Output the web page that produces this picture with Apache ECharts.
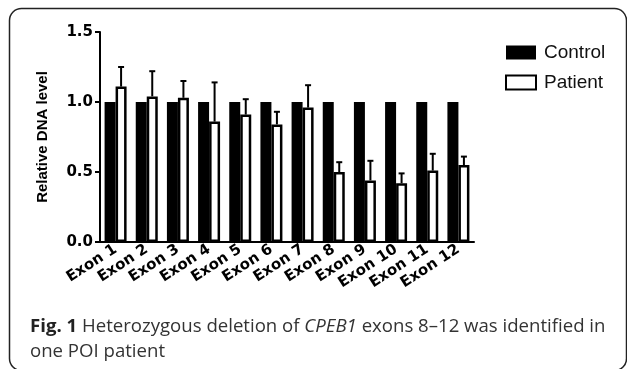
<!DOCTYPE html>
<html>
<head>
<meta charset="utf-8">
<title>CPEB1 exons</title>
<script src="https://cdn.jsdelivr.net/npm/echarts@6/dist/echarts.min.js"></script>
<style>
  html, body { margin: 0; padding: 0; background: #fff; }
  #chart { width: 627px; height: 369px; }
</style>
</head>
<body>
<div id="chart"></div>
<script>
  // data
  var categories = ['Exon 1', 'Exon 2', 'Exon 3', 'Exon 4', 'Exon 5', 'Exon 6',
                    'Exon 7', 'Exon 8', 'Exon 9', 'Exon 10', 'Exon 11', 'Exon 12'];
  var controlValues = [1, 1, 1, 1, 1, 1, 1, 1, 1, 1, 1, 1];
  var patientValues = [1.11, 1.04, 1.03, 0.86, 0.91, 0.84, 0.96, 0.50, 0.44, 0.42, 0.51, 0.55];
  var patientError  = [0.14, 0.18, 0.12, 0.28, 0.11, 0.09, 0.16, 0.07, 0.14, 0.07, 0.12, 0.06];
  var yTicks = [0, 0.5, 1.0, 1.5];

  var barW = 11;

  var myChart = echarts.init(document.getElementById('chart'));

  var option = {
    animation: false,
    backgroundColor: '#fff',
    title: {
      left: 25,
      top: 309,
      text: '{b|Fig. 1} Heterozygous deletion of {i|CPEB1} exons 8\u201312 was identified in\none POI patient',
      textStyle: {
        fontFamily: 'Open Sans',
        fontSize: 18.6,
        fontWeight: 'normal',
        color: '#333',
        lineHeight: 25,
        rich: {
          b: { fontFamily: 'Open Sans', fontSize: 18.6, fontWeight: 'bold', color: '#222', lineHeight: 25 },
          i: { fontFamily: 'Open Sans', fontSize: 18.6, fontStyle: 'italic', color: '#333', lineHeight: 25 }
        }
      }
    },
    graphic: [{
      type: 'rect',
      silent: true,
      shape: { x: 9.5, y: 8.5, width: 617, height: 362, r: 12 },
      style: { fill: 'none', stroke: '#222', lineWidth: 1.5 }
    }],
    legend: {
      orient: 'vertical',
      left: 500,
      top: 38,
      itemWidth: 30,
      itemHeight: 14,
      itemGap: 11,
      icon: 'rect',
      data: ['Control', 'Patient'],
      textStyle: {
        fontFamily: 'Liberation Sans',
        fontSize: 19,
        color: '#111',
        padding: [0, 0, 0, 3]
      }
    },
    grid: {
      left: 100,
      right: 153,
      top: 32,
      bottom: 127
    },
    xAxis: {
      type: 'category',
      data: categories,
      axisLine: { lineStyle: { color: '#000', width: 2 } },
      axisTick: { alignWithLabel: true, length: 5, lineStyle: { color: '#000', width: 2 } },
      axisLabel: {
        interval: 0,
        rotate: 33,
        margin: 6,
        fontFamily: 'DejaVu Sans',
        fontWeight: 'bold',
        fontSize: 15,
        color: '#000'
      }
    },
    yAxis: {
      type: 'value',
      min: yTicks[0],
      max: yTicks[yTicks.length - 1],
      interval: 0.5,
      name: 'Relative DNA level',
      nameLocation: 'middle',
      nameGap: 50,
      nameTextStyle: {
        fontFamily: 'Liberation Sans',
        fontWeight: 'bold',
        fontSize: 15,
        color: '#000'
      },
      axisLine: { show: true, lineStyle: { color: '#000', width: 2 } },
      axisTick: { show: true, length: 5, lineStyle: { color: '#000', width: 2 } },
      splitLine: { show: false },
      axisLabel: {
        margin: 7,
        fontFamily: 'DejaVu Sans',
        fontWeight: 'bold',
        fontSize: 15,
        color: '#000',
        formatter: function (v) { return v.toFixed(1); }
      }
    },
    series: [{
      name: 'Control',
      type: 'bar',
      data: controlValues,
      barWidth: barW,
      barGap: '0%',
      itemStyle: { color: '#000' }
    }, {
      name: 'Patient',
      type: 'bar',
      data: patientValues,
      barWidth: barW,
      barGap: '0%',
      itemStyle: { color: '#fff', borderColor: '#000', borderWidth: 2.5 }
    }, {
      // error bars of the patient series (upper only)
      type: 'custom',
      silent: true,
      z: 3,
      data: patientValues.map(function (v, i) { return [i, v, v + patientError[i]]; }),
      renderItem: function (params, api) {
        var base = api.coord([api.value(0), api.value(1)]);
        var top = api.coord([api.value(0), api.value(2)]);
        var x = base[0] + barW / 2;
        var style = { stroke: '#000', lineWidth: 2 };
        return {
          type: 'group',
          children: [{
            type: 'line',
            shape: { x1: x, y1: base[1], x2: x, y2: top[1] },
            style: style
          }, {
            type: 'line',
            shape: { x1: x - 3, y1: top[1], x2: x + 3, y2: top[1] },
            style: style
          }]
        };
      }
    }]
  };

  myChart.setOption(option);
</script>
</body>
</html>
